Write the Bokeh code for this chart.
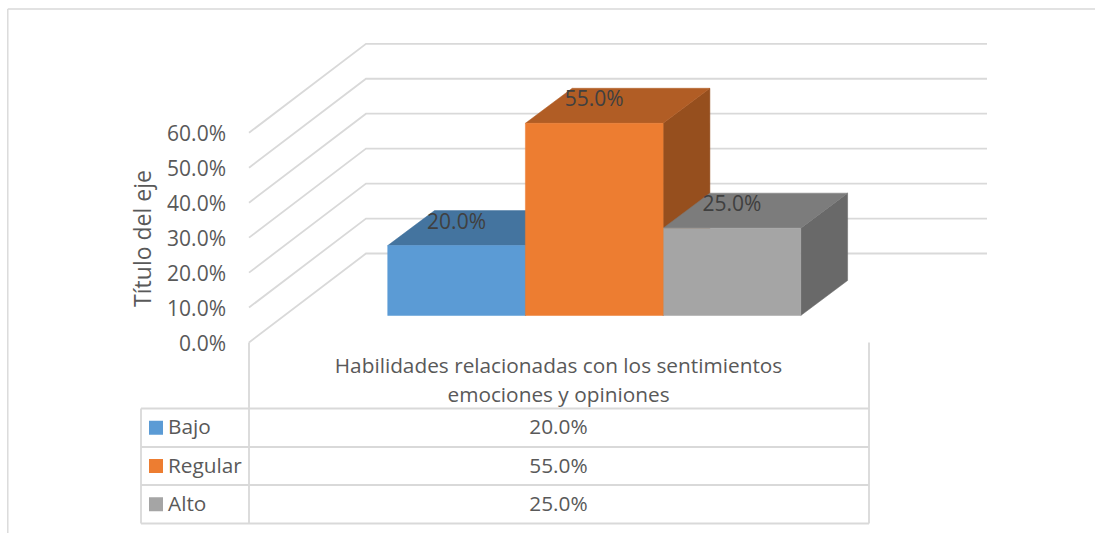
from bokeh.plotting import figure
from bokeh.models import Range1d
from bokeh.core.properties import value
from bokeh.embed import file_html
from bokeh.resources import INLINE
import math

# --- data ---
series = ["Bajo", "Regular", "Alto"]
values = [20.0, 55.0, 25.0]
ticks = [0, 10, 20, 30, 40, 50, 60]
tick_labels = ["0.0%", "10.0%", "20.0%", "30.0%", "40.0%", "50.0%", "60.0%"]
cell_labels = ["20.0%", "55.0%", "25.0%"]
category_lines = ["Habilidades relacionadas con los sentimientos", "emociones y opiniones"]
axis_title = "Título del eje"
front_colors = ["#5B9BD5", "#ED7D31", "#A5A5A5"]
top_colors = ["#44749F", "#B15D25", "#7C7C7C"]
side_colors = ["#44749F", "#964F1E", "#696969"]

# --- layout (in page pixels) ---
FONT = value("Open Sans")
GREY = "#D9D9D9"
TXT = "#595959"
PX_PER_UNIT = 3.495
FLOOR_FRONT = 315.0
BAR_LEFT = 387.7
BAR_W = 137.7
DX, DY = 46.8, 35.0
WALL_X0, WALL_X1, WALL_X2 = 249.0, 366.0, 987.0
WALL_Y0, WALL_YB = 342.0, 253.0
TABLE_L, TABLE_M, TABLE_R = 141.0, 249.0, 869.0
ROWS = [408.0, 446.5, 484.5, 523.0]

p = figure(width=1095, height=533, output_backend="svg", toolbar_location=None,
           x_range=Range1d(0.5, 1095.5), y_range=Range1d(533, 0),
           min_border=0, outline_line_color=None)
p.axis.visible = False
p.grid.visible = False
p.background_fill_color = "white"
p.border_fill_color = "white"

# chart frame
p.line([7.8, 7.8], [533, 8.5], line_color=GREY, line_width=1.4)
p.line([7.8, 1095.5], [8.5, 8.5], line_color=GREY, line_width=1.4)

# walls / gridlines
for t in ticks:
    h = t * PX_PER_UNIT
    p.line([WALL_X0, WALL_X1, WALL_X2], [WALL_Y0 - h, WALL_YB - h, WALL_YB - h],
           line_color=GREY, line_width=1.8, line_join="miter")

# bars: draw sides and tops first, then fronts
for i in [0, 1, 2]:
    x0 = BAR_LEFT + i * BAR_W
    x1 = x0 + BAR_W
    top = FLOOR_FRONT - values[i] * PX_PER_UNIT
    p.patch([x1, x1 + DX, x1 + DX, x1], [FLOOR_FRONT, FLOOR_FRONT - DY, top - DY, top],
            fill_color=side_colors[i], line_color=side_colors[i], line_width=0.5)
    p.patch([x0, x0 + DX, x1 + DX, x1], [top, top - DY, top - DY, top],
            fill_color=top_colors[i], line_color=top_colors[i], line_width=0.5)
for i in [0, 2, 1]:
    x0 = BAR_LEFT + i * BAR_W
    top = FLOOR_FRONT - values[i] * PX_PER_UNIT
    p.quad(left=x0, right=x0 + BAR_W, top=top, bottom=FLOOR_FRONT,
           fill_color=front_colors[i], line_color=front_colors[i], line_width=0.5)

# data labels
p.text([BAR_LEFT + (i + 0.5) * BAR_W for i in range(3)],
       [FLOOR_FRONT - v * PX_PER_UNIT - 25 for v in values],
       text=cell_labels, text_align="center", text_baseline="middle",
       text_font=FONT, text_font_size="21px", text_color="#404040")

# value axis labels
p.text([226] * len(ticks), [WALL_Y0 - t * PX_PER_UNIT for t in ticks], text=tick_labels,
       text_align="right", text_baseline="middle", text_font=FONT,
       text_font_size="21px", text_color=TXT)
p.text([141.5], [238], text=[axis_title], angle=[math.pi / 2], text_align="center",
       text_baseline="middle", text_font=FONT, text_font_size="23px", text_color=TXT)

# data table
for x in [TABLE_M, TABLE_R]:
    p.line([x, x], [WALL_Y0, ROWS[-1]], line_color=GREY, line_width=1.8)
p.line([TABLE_L, TABLE_L], [ROWS[0], ROWS[-1]], line_color=GREY, line_width=1.8)
for y in ROWS:
    p.line([TABLE_L, TABLE_R], [y, y], line_color=GREY, line_width=1.8)

mid_x = (TABLE_M + TABLE_R) / 2
p.text([mid_x - 0.5] * 2, [364.5, 393.5], text=category_lines, text_align="center",
       text_baseline="middle", text_font=FONT, text_font_size="20.8px", text_color=TXT)
for i, name in enumerate(series):
    cy = (ROWS[i] + ROWS[i + 1]) / 2
    p.quad(left=149, right=163, top=cy - 7, bottom=cy + 7, fill_color=front_colors[i], line_color=None)
    p.text([168], [cy - 1.5], text=[name], text_align="left", text_baseline="middle",
           text_font=FONT, text_font_size="20.8px", text_color=TXT)
    p.text([mid_x - 0.5], [cy - 1.5], text=[cell_labels[i]], text_align="center", text_baseline="middle",
           text_font=FONT, text_font_size="20.8px", text_color=TXT)

open("out.html", "w").write(file_html(p, INLINE))
